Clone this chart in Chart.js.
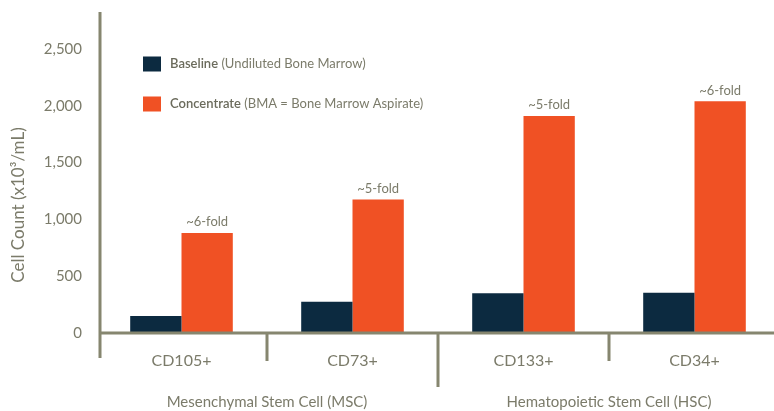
<!DOCTYPE html>
<html>
<head>
<meta charset="utf-8">
<script src="https://cdn.jsdelivr.net/npm/chart.js@4.4.1/dist/chart.umd.min.js"></script>
<style>
  html, body { margin: 0; padding: 0; background: #fff; overflow: hidden; }
  #wrap { width: 774px; height: 411px; overflow: hidden; }
</style>
</head>
<body>
<div id="wrap"><canvas id="myChart" width="780" height="411"></canvas></div>
<script>
// values (cells x10^3/mL)
var categories = ['CD105+', 'CD73+', 'CD133+', 'CD34+'];
var baselineValues = [150, 275, 350, 355];
var concentrateValues = [880, 1175, 1910, 2040];
var foldLabels = ['~6-fold', '~5-fold', '~5-fold', '~6-fold'];
var groupLabels = ['Mesenchymal Stem Cell (MSC)', 'Hematopoietic Stem Cell (HSC)'];
var yTickValues = [0, 500, 1000, 1500, 2000, 2500];

var navy = '#0c2a40';
var orange = '#f05124';
var axisColor = '#86866f';
var textColor = '#7b7b6a';
var fontFamily = 'Lato, "Open Sans", sans-serif';

// axis lines, category dividers and group names
var axisPlugin = {
  id: 'axisLines',
  afterDraw: function (chart) {
    var ctx = chart.ctx;
    var area = chart.chartArea;
    var x = chart.scales.x;
    var y0 = chart.scales.y.getPixelForValue(0);
    var axisX = area.left + 4;
    ctx.save();
    ctx.strokeStyle = axisColor;
    ctx.lineWidth = 3;
    ctx.beginPath();
    ctx.moveTo(axisX, 12);
    ctx.lineTo(axisX, 358);
    ctx.moveTo(axisX, y0);
    ctx.lineTo(774, y0);
    for (var i = 0; i < categories.length - 1; i++) {
      var bx = (x.getPixelForValue(i) + x.getPixelForValue(i + 1)) / 2;
      ctx.moveTo(bx, y0);
      ctx.lineTo(bx, i === 1 ? 387 : 361);
    }
    ctx.stroke();

    ctx.fillStyle = textColor;
    ctx.font = '15px ' + fontFamily;
    ctx.textAlign = 'center';
    ctx.textBaseline = 'middle';
    for (var g = 0; g < groupLabels.length; g++) {
      var gx = (x.getPixelForValue(g * 2) + x.getPixelForValue(g * 2 + 1)) / 2;
      ctx.fillText(groupLabels[g], gx, 402);
    }

    // y title
    ctx.save();
    ctx.translate(19, 205);
    ctx.rotate(-Math.PI / 2);
    ctx.font = '17px ' + fontFamily;
    ctx.fillText('Cell Count (x10\u00b3/mL)', 0, 0);
    ctx.restore();
    ctx.restore();
  }
};

// "~n-fold" above the concentrate bars
var foldPlugin = {
  id: 'foldLabels',
  afterDatasetsDraw: function (chart) {
    var ctx = chart.ctx;
    var meta = chart.getDatasetMeta(1);
    ctx.save();
    ctx.fillStyle = textColor;
    ctx.font = '13px ' + fontFamily;
    ctx.textAlign = 'center';
    ctx.textBaseline = 'middle';
    meta.data.forEach(function (bar, i) {
      ctx.fillText(foldLabels[i], bar.x, bar.y - 11);
    });
    ctx.restore();
  }
};

// legend in the upper left of the plot
var legendPlugin = {
  id: 'boxLegend',
  afterDraw: function (chart) {
    var ctx = chart.ctx;
    var items = [
      { color: navy, bold: 'Baseline', rest: ' (Undiluted Bone Marrow)', y: 64 },
      { color: orange, bold: 'Concentrate', rest: ' (BMA = Bone Marrow Aspirate)', y: 104 }
    ];
    ctx.save();
    ctx.textBaseline = 'middle';
    ctx.textAlign = 'left';
    items.forEach(function (it) {
      ctx.fillStyle = it.color;
      ctx.fillRect(143, it.y - 7.5, 18, 15);
      ctx.font = '600 13px ' + fontFamily;
      ctx.fillStyle = '#6b6b5c';
      ctx.fillText(it.bold, 170, it.y);
      var w = ctx.measureText(it.bold).width;
      ctx.font = '13px ' + fontFamily;
      ctx.fillStyle = textColor;
      ctx.fillText(it.rest, 170 + w, it.y);
    });
    ctx.restore();
  }
};

var chart = new Chart(document.getElementById('myChart'), {
  type: 'bar',
  data: {
    labels: categories,
    datasets: [
      { label: 'Baseline', data: baselineValues, backgroundColor: navy },
      { label: 'Concentrate', data: concentrateValues, backgroundColor: orange }
    ]
  },
  options: {
    responsive: false,
    animation: false,
    categoryPercentage: 0.6,
    barPercentage: 1.0,
    layout: { padding: { top: 6, right: 0, left: 0, bottom: 0 } },
    plugins: {
      legend: { display: false },
      tooltip: { enabled: false }
    },
    scales: {
      x: {
        grid: { display: false },
        border: { display: false },
        ticks: { color: textColor, font: { family: fontFamily, size: 16 }, padding: 10 },
        afterFit: function (s) { s.height = 78; }
      },
      y: {
        min: 0,
        max: 2800,
        grid: { display: false },
        border: { display: false },
        ticks: {
          padding: 6,
          color: textColor,
          font: { family: fontFamily, size: 15 }
        },
        afterBuildTicks: function (s) {
          s.ticks = yTickValues.map(function (v) { return { value: v }; });
        },
        afterFit: function (s) { s.width = 96; }
      }
    }
  },
  plugins: [axisPlugin, foldPlugin, legendPlugin]
});
</script>
</body>
</html>
